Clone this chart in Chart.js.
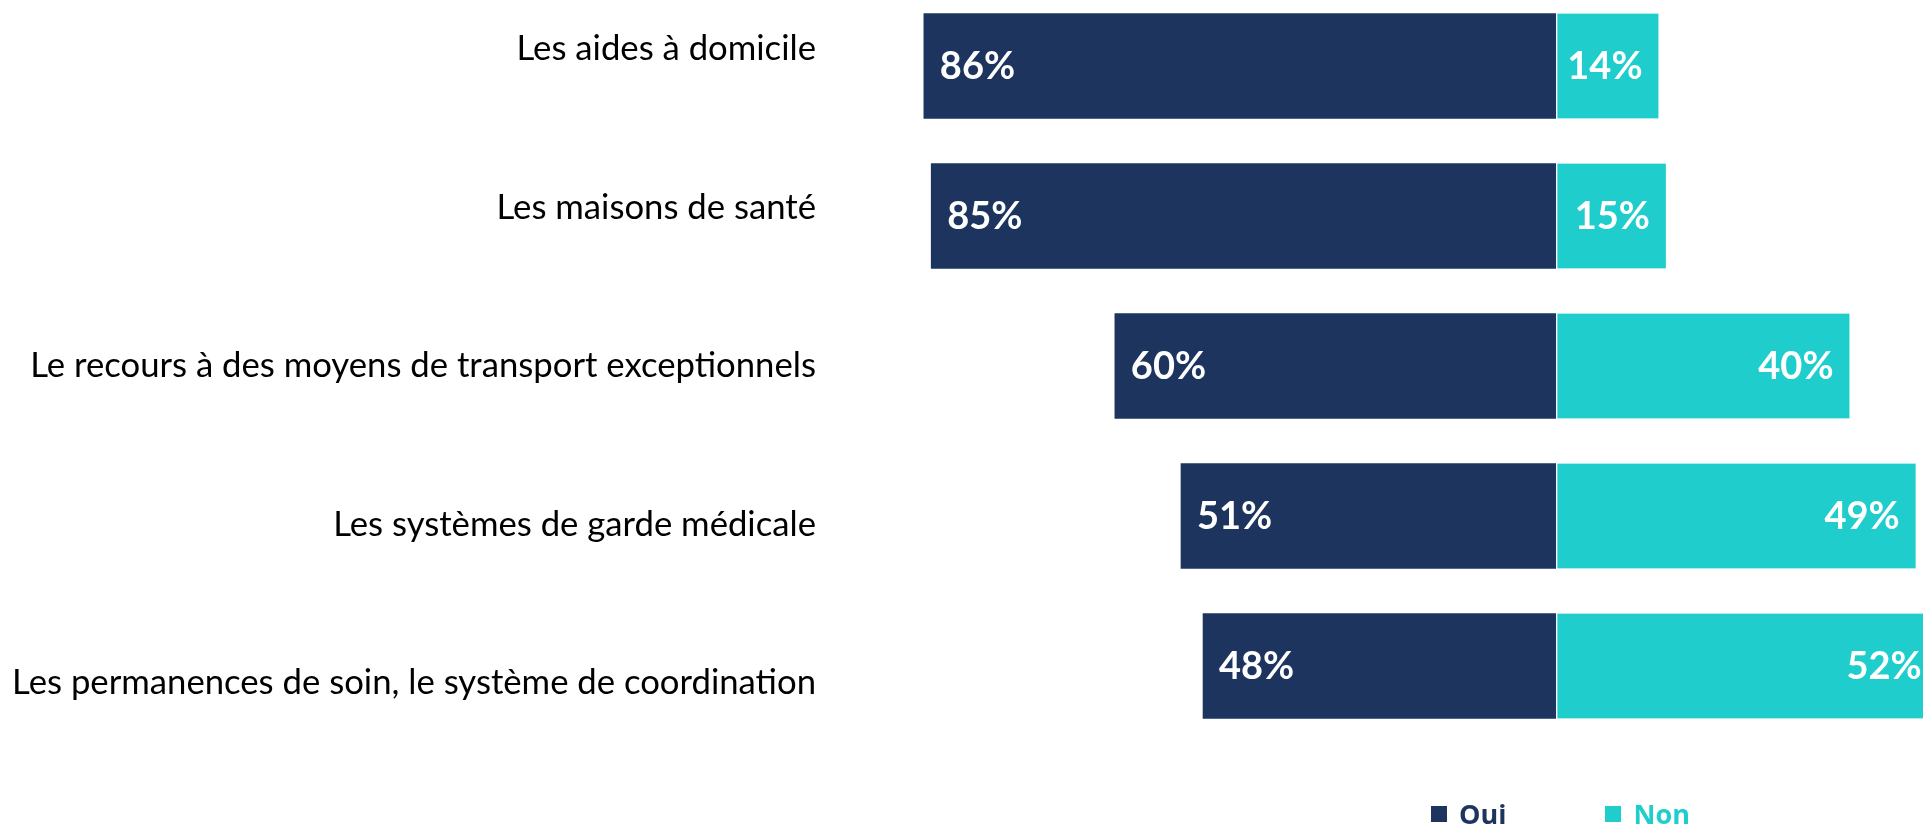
<!DOCTYPE html>
<html lang="fr">
<head>
<meta charset="utf-8">
<title>Oui / Non</title>
<script src="https://cdn.jsdelivr.net/npm/chart.js@4.4.1/dist/chart.umd.min.js"></script>
<style>
  html, body { margin: 0; padding: 0; background: #fff; overflow: hidden; }
  #wrap { position: relative; width: 1923px; height: 827px; }
  #legende { position: absolute; left: 1431px; top: 795px; display: flex; font: bold 27px "Open Sans", sans-serif; }
  #legende .item { display: flex; align-items: center; margin-right: 99px; }
  #legende .carre { width: 16px; height: 16px; margin-right: 12px; }
</style>
</head>
<body>
<div id="wrap">
  <canvas id="graphique"></canvas>
  <div id="legende"></div>
</div>
<script>
// Données
const categories = [
  'Les aides à domicile',
  'Les maisons de santé',
  'Le recours à des moyens de transport exceptionnels',
  'Les systèmes de garde médicale',
  'Les permanences de soin, le système de coordination'
];
const oui = [86, 85, 60, 51, 48];
const non = [14, 15, 40, 49, 52];

const couleurOui = '#1d355e';
const couleurNon = '#20cdcd';

// Pourcentages écrits dans les barres (Oui à gauche, Non à droite)
const etiquettesValeurs = {
  id: 'etiquettesValeurs',
  afterDatasetsDraw(chart) {
    const ctx = chart.ctx;
    ctx.save();
    ctx.font = 'bold 38px Lato';
    ctx.fillStyle = '#fff';
    ctx.textBaseline = 'middle';
    chart.data.datasets.forEach((ds, i) => {
      chart.getDatasetMeta(i).data.forEach((barre, j) => {
        const gauche = Math.min(barre.x, barre.base);
        const droite = Math.max(barre.x, barre.base);
        const texte = Math.abs(ds.data[j].x) + '%';
        if (ds.label === 'Oui') {
          ctx.textAlign = 'left';
          ctx.fillText(texte, gauche + 16, barre.y + 1);
        } else {
          ctx.textAlign = 'right';
          ctx.fillText(texte, droite - 16, barre.y + 1);
        }
      });
    });
    ctx.restore();
  }
};

function creerGraphique() {
  const ctx = document.getElementById('graphique').getContext('2d');
  const chart = new Chart(ctx, {
    type: 'bar',
    data: {
      datasets: [
        {
          label: 'Oui',
          data: oui.map((v, i) => ({ x: -v, y: i })),
          backgroundColor: couleurOui,
          borderWidth: 0,
          barThickness: 105,
          clip: false
        },
        {
          label: 'Non',
          data: non.map((v, i) => ({ x: v, y: i })),
          backgroundColor: couleurNon,
          borderColor: '#fff',
          borderWidth: { left: 2, top: 0, right: 0, bottom: 0 },
          borderSkipped: false,
          barThickness: 105,
          clip: false
        }
      ]
    },
    options: {
      indexAxis: 'y',
      responsive: true,
      maintainAspectRatio: false,
      animation: false,
      layout: { padding: { top: 49, bottom: 144, left: 0, right: 0 } },
      plugins: {
        legend: { display: false },
        tooltip: { enabled: false }
      },
      scales: {
        x: {
          display: false,
          stacked: true,
          min: -100,
          max: 50
        },
        // axe des barres (masqué)
        y: {
          type: 'linear',
          display: false,
          offset: false,
          stacked: true,
          reverse: true,
          min: -0.1133,
          max: 4.1133
        },
        // axe des libellés
        yl: {
          type: 'linear',
          position: 'left',
          display: true,
          offset: false,
          reverse: true,
          min: 0,
          max: categories.length - 1,
          grid: { display: false, drawTicks: false, offset: false },
          border: { display: false },
          afterBuildTicks: axis => {
            axis.ticks = categories.map((c, i) => ({ value: i }));
          },
          afterFit: axis => {
            axis.width = 821;
          },
          ticks: {
            autoSkip: false,
            padding: 5,
            color: '#000',
            font: { family: 'Lato', size: 34.7 },
            callback: value => categories[value]
          }
        }
      }
    },
    plugins: [etiquettesValeurs]
  });

  // Légende HTML
  const legende = document.getElementById('legende');
  chart.data.datasets.forEach(ds => {
    const item = document.createElement('div');
    item.className = 'item';
    item.innerHTML = `<span class="carre" style="background:${ds.backgroundColor}"></span><span style="color:${ds.backgroundColor}">${ds.label}</span>`;
    legende.appendChild(item);
  });
}

Promise.all([
  document.fonts.load('35px Lato'),
  document.fonts.load('bold 38px Lato')
]).then(creerGraphique, creerGraphique);
</script>
</body>
</html>
